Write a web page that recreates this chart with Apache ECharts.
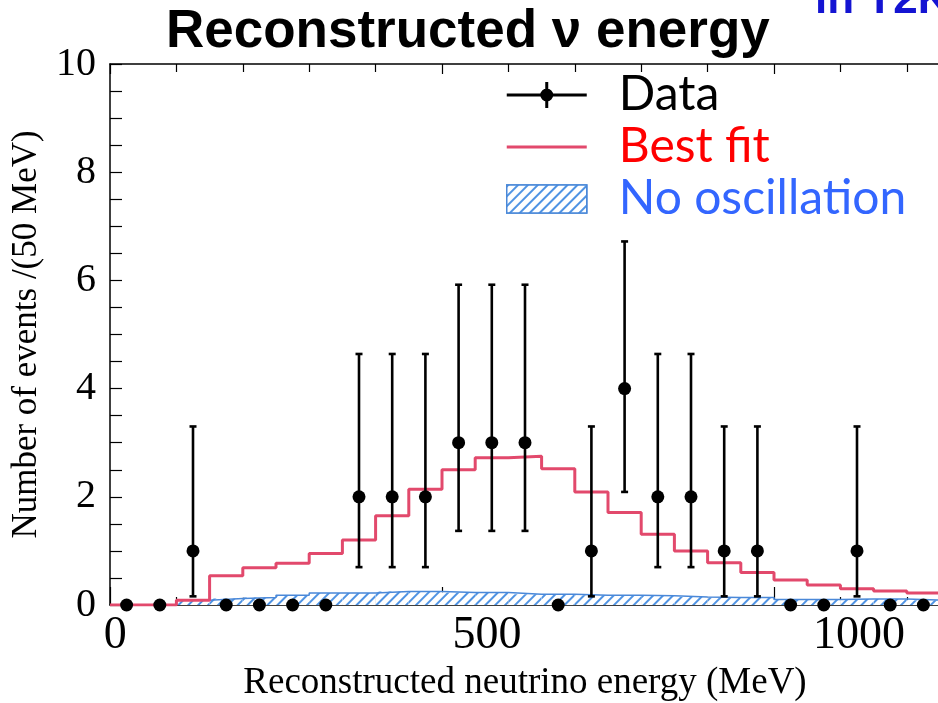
<!DOCTYPE html>
<html><head><meta charset="utf-8">
<script src="https://cdn.jsdelivr.net/npm/echarts@6/dist/echarts.min.js"></script>
<style>html,body{margin:0;padding:0;background:#fff}#c{width:938px;height:703px}</style>
</head><body><div id="c"></div>
<script>
// ---- data ----
const binLowEdges = [0,50,100,150,200,250,300,350,400,450,500,550,600,650,700,750,800,850,900,950,1000,1050,1100,1150,1200];
const binWidthMeV = 50;
const dataCounts  = [0,0,1,0,0,0,0,2,2,2,3,3,3,0,1,4,2,2,1,1,0,0,1,0,0];
const dataErrLow  = [null,null,0.16,null,null,null,null,0.7,0.7,0.7,1.37,1.37,1.37,null,0.16,2.09,0.7,0.7,0.16,0.16,null,null,0.16,null,null];
const dataErrHigh = [null,null,3.3,null,null,null,null,4.64,4.64,4.64,5.92,5.92,5.92,null,3.3,6.72,4.64,4.64,3.3,3.3,null,null,3.3,null,null];
const bestFit     = [0,0,0.09,0.54,0.69,0.77,0.95,1.2,1.65,2.14,2.5,2.72,2.75,2.52,2.09,1.71,1.31,1.0,0.78,0.6,0.46,0.37,0.3,0.26,0.22];
const noOscillation = [0,0,0.09,0.12,0.14,0.18,0.22,0.22,0.25,0.25,0.23,0.23,0.2,0.2,0.18,0.18,0.17,0.15,0.14,0.14,0.1,0.1,0.11,0.11,0.09];
const xTickLabels = [0,500,1000];
const yRange = [0,10];
const xRange = [0,1250];

// ---- derived series data ----
const binCenters = binLowEdges.map(e => e + binWidthMeV/2);
const lastEdge = binLowEdges[binLowEdges.length-1] + binWidthMeV;
const stepData = arr => binLowEdges.map((e,i)=>[e, arr[i]]).concat([[lastEdge, arr[arr.length-1]]]);
const pointData = binCenters.map((c,i)=>[c, dataCounts[i]]);
const errData = binCenters.map((c,i)=>[c, dataErrLow[i], dataErrHigh[i]]).filter(d=>d[1]!==null);
const noOscBars = binCenters.map((c,i)=>[c, noOscillation[i]]);

const serif = 'Liberation Serif';
const hatchBlue = '#4f93e3';
const fitColor = '#e2496c';

const chart = echarts.init(document.getElementById('c'), null, {renderer:'canvas'});
chart.setOption({
  animation:false,
  backgroundColor:'#fff',
  title:[
    {text:'Reconstructed \u03bd energy', left:166, top:6, padding:0,
     textStyle:{fontFamily:'Liberation Sans', fontWeight:'bold', fontSize:53, color:'#000'}},
    {text:'in T2K', left:815, top:-21, padding:0,
     textStyle:{fontFamily:'Liberation Sans', fontWeight:'bold', fontSize:44, color:'#1414d2'}}
  ],
  legend:{
    orient:'vertical', left:506, top:70, itemWidth:80, itemHeight:28, itemGap:2,
    padding:0,
    textStyle:{fontFamily:'Lato', fontSize:48, lineHeight:50, padding:[0,0,0,27]},
    data:[
      {name:'Data', icon:'path://M0,12.5H80V15.5H0Z M38.5,1H41.5V27H38.5Z M46.5,14A6.5,6.5,0,1,1,33.5,14A6.5,6.5,0,1,1,46.5,14Z',
       itemStyle:{color:'#000', opacity:1}, textStyle:{color:'#000'}},
      {name:'Best fit', icon:'path://M0,12.5H80V15.5H0Z', itemStyle:{color:fitColor}, textStyle:{color:'#ff0000'}},
      {name:'No oscillation', icon:'rect', itemStyle:{borderColor:'#4a88d8', borderWidth:1.5}, textStyle:{color:'#3366ff'}}
    ]
  },
  grid:{left:110, top:64, width:830, height:541, containLabel:false, outerBoundsMode:'none'},
  xAxis:[
    {type:'value', min:xRange[0], max:xRange[1], interval:500, position:'bottom',
     axisLine:{show:true, onZero:false, lineStyle:{color:'#000', width:1.5}},
     axisTick:{show:true, inside:true, length:18, lineStyle:{color:'#000', width:1.2}},
     minorTick:{show:true, splitNumber:5, length:8, lineStyle:{color:'#000', width:1.2}},
     axisLabel:{show:false}, splitLine:{show:false},
     name:'Reconstructed neutrino energy (MeV)', nameLocation:'middle', nameGap:60,
     nameTextStyle:{fontFamily:serif, fontSize:37, color:'#000'}},
    {type:'value', min:-7, max:1109, position:'bottom', offset:0,
     axisLine:{show:false}, axisTick:{show:false}, splitLine:{show:false},
     axisLabel:{customValues:xTickLabels, formatter:v=>String(v), fontFamily:serif, fontSize:46, color:'#000', margin:8}},
    {type:'value', min:xRange[0], max:xRange[1], interval:500, position:'top',
     axisLine:{show:true, onZero:false, lineStyle:{color:'#000', width:1.5}},
     axisTick:{show:true, inside:true, length:10, lineStyle:{color:'#000', width:1.2}},
     minorTick:{show:true, splitNumber:5, length:8, lineStyle:{color:'#000', width:1.2}},
     axisLabel:{show:false}, splitLine:{show:false}}
  ],
  yAxis:{type:'value', min:yRange[0], max:yRange[1], interval:2,
    axisLine:{show:true, onZero:false, lineStyle:{color:'#000', width:1.5}},
    axisTick:{show:true, inside:true, length:12, lineStyle:{color:'#000', width:1.2}},
    minorTick:{show:true, splitNumber:4, length:12, lineStyle:{color:'#000', width:1.2}},
    splitLine:{show:false},
    axisLabel:{fontFamily:serif, fontSize:40, color:'#000', margin:14},
    name:'Number of events /(50 MeV)', nameLocation:'middle', nameGap:66, nameRotate:90,
    nameTextStyle:{fontFamily:serif, fontSize:35, color:'#000'}},
  series:[
    {name:'No oscillation', type:'bar', xAxisIndex:0, data:noOscBars, barWidth:'100%',
     itemStyle:{color:'#ffffff',
       decal:{symbol:'rect', symbolSize:1, dashArrayX:[1,0], dashArrayY:[1.5,5], rotation:-Math.PI/4,
              color:hatchBlue, backgroundColor:'#ffffff'}},
     z:1},
    {name:'No oscillation outline', type:'line', xAxisIndex:0, step:'end', data:stepData(noOscillation),
     symbol:'none', lineStyle:{color:'#4a88d8', width:1.5}, z:2},
    {name:'Best fit', type:'line', xAxisIndex:0, step:'end', data:stepData(bestFit),
     symbol:'none', lineStyle:{color:fitColor, width:3}, itemStyle:{color:fitColor}, z:3},
    {name:'Data error', type:'custom', xAxisIndex:0, data:errData, z:4,
     renderItem:(params, api)=>{
       const x = api.value(0);
       const pLo = api.coord([x, api.value(1)]);
       const pHi = api.coord([x, api.value(2)]);
       const cw = 3.5;
       const st = {stroke:'#000', lineWidth:2.6};
       return {type:'group', children:[
         {type:'line', shape:{x1:pLo[0], y1:pLo[1], x2:pHi[0], y2:pHi[1]}, style:st},
         {type:'line', shape:{x1:pLo[0]-cw, y1:pLo[1], x2:pLo[0]+cw, y2:pLo[1]}, style:st},
         {type:'line', shape:{x1:pHi[0]-cw, y1:pHi[1], x2:pHi[0]+cw, y2:pHi[1]}, style:st}
       ]};
     }},
    {name:'Data', type:'scatter', xAxisIndex:0, data:pointData, symbol:'circle', symbolSize:13,
     itemStyle:{color:'#000', opacity:1}, clip:false, z:5}
  ]
});
</script></body></html>
